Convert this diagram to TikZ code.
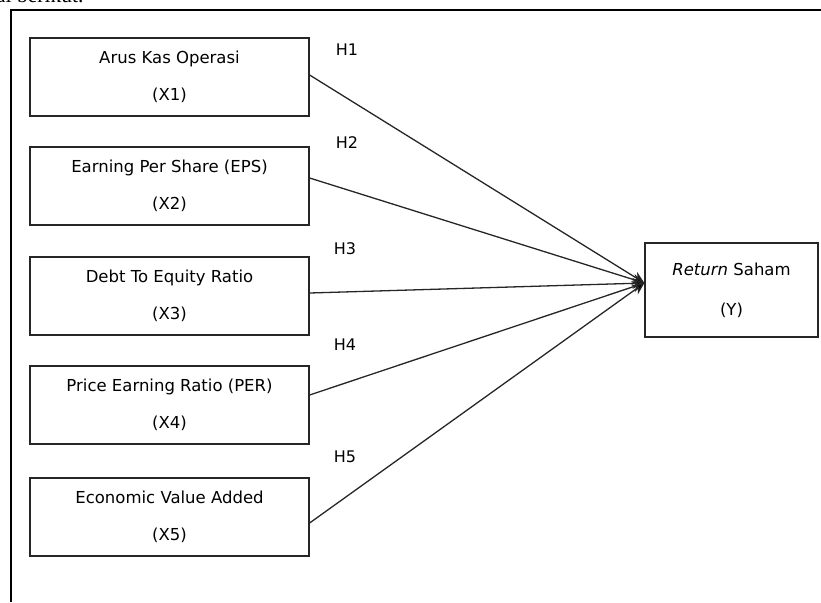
\documentclass[tikz,border=0pt]{standalone}
\usepackage{fontspec}
\setmainfont{DejaVu Sans}
\newfontfamily\captfont{Liberation Serif}
\usetikzlibrary{arrows.meta}

\tikzset{
  varbox/.style={draw=black!85, line width=1.2pt, minimum width=279pt, minimum height=78pt,
    align=center, font=\fontsize{16.5}{19}\selectfont, inner sep=0pt},
  hyp/.style={font=\fontsize{16}{19}\selectfont, inner sep=0pt},
  link/.style={draw=black!85, line width=1.3pt, -{Stealth[length=12pt,width=11pt,fill=black]}}
}

\begin{document}
\begin{tikzpicture}[x=1pt, y=-1pt]
  \useasboundingbox (0,0) rectangle (821,602);
  % caption line cut off at the top
  \begin{scope}
    \clip (0,0) rectangle (821,602);
    \node[anchor=base west, inner sep=0pt, font=\captfont\fontsize{21.5}{24}\selectfont] (capt) at (-4,3) {ai berikut.};
  \end{scope}
  % frame
  \draw[line width=1.3pt] (11,602) -- (11,10) -- (821,10);

  \node[varbox] (x1) at (169.5,77)  {Arus Kas Operasi\\[18pt](X1)};
  \node[varbox] (x2) at (169.5,186) {Earning Per Share (EPS)\\[18pt](X2)};
  \node[varbox] (x3) at (169.5,296) {Debt To Equity Ratio\\[18pt](X3)};
  \node[varbox] (x4) at (169.5,405) {Price Earning Ratio (PER)\\[18pt](X4)};
  \node[varbox] (x5) at (169.5,517) {Economic Value Added\\[18pt](X5)};

  \node[varbox, minimum width=173pt, minimum height=94pt] (y) at (731.5,290)
    {\textit{Return} Saham\\[21pt](Y)};

  \coordinate (tip) at ([yshift=7pt]y.west);

  \node[hyp] (h1) at (347,50)  {H1};
  \node[hyp] (h2) at (347,143) {H2};
  \node[hyp] (h3) at (345,249) {H3};
  \node[hyp] (h4) at (345,345) {H4};
  \node[hyp] (h5) at (345,457) {H5};

  \draw[link] ([yshift=2pt]x1.east) -- (tip);
  \draw[link] ([yshift=8pt]x2.east) -- (tip);
  \draw[link] ([yshift=3pt]x3.east) -- (tip);
  \draw[link] ([yshift=10pt]x4.east) -- (tip);
  \draw[link] ([yshift=-6pt]x5.east) -- (tip);
\end{tikzpicture}
\end{document}
